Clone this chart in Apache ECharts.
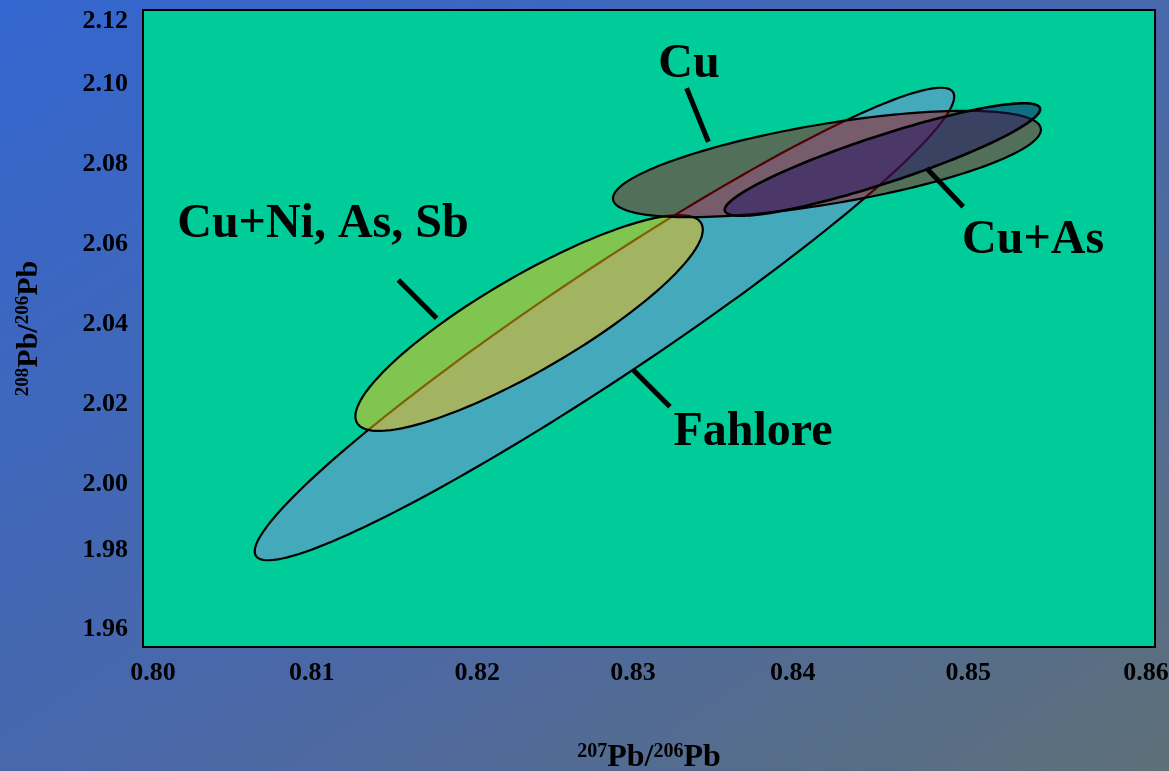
<!DOCTYPE html>
<html lang="en">
<head>
  <meta charset="UTF-8">
  <title>208Pb/206Pb vs 207Pb/206Pb</title>
  <style>
    html, body { margin: 0; padding: 0; }
    body { background: #3366cc; }
    #chart {
      width: 1169px;
      height: 771px;
      background: linear-gradient(to bottom right, #3366d0 0%, #4a68a8 55%, #5e7078 100%);
    }
  </style>
</head>
<body>
  <div id="chart"></div>

<script src="https://cdn.jsdelivr.net/npm/echarts@6/dist/echarts.min.js"></script>
<script>
  // ellipse fields: centre, end of major semi-axis, end of minor semi-axis (data units)
  var ellipseNames = ['Fahlore', 'Cu+Ni, As, Sb', 'Cu', 'Cu+As']
  var centerX = [0.82736, 0.82289, 0.84055, 0.84384]
  var centerY = [2.04113, 2.04138, 2.08132, 2.08245]
  var majorX = [0.84802, 0.83305, 0.85323, 0.85318]
  var majorY = [2.09940, 2.06672, 2.09026, 2.09538]
  var minorX = [0.82913, 0.82457, 0.84094, 0.84429]
  var minorY = [2.02985, 2.03176, 2.07139, 2.07678]

  // text labels and their leader lines
  var labelText = ['Cu', 'Cu+Ni, As, Sb', 'Cu+As', 'Fahlore']
  var labelX = [0.83237, 0.81067, 0.85277, 0.83617]
  var labelY = [2.10618, 2.06599, 2.06198, 2.01375]
  var leaderX1 = [0.83223, 0.81514, 0.84646, 0.82907]
  var leaderY1 = [2.10033, 2.05218, 2.08024, 2.02957]
  var leaderX2 = [0.83352, 0.81741, 0.84863, 0.83124]
  var leaderY2 = [2.08692, 2.04256, 2.07059, 2.02035]

  var xTicks = [0.80, 0.81, 0.82, 0.83, 0.84, 0.85, 0.86]
  var yTicks = [1.96, 1.98, 2.00, 2.02, 2.04, 2.06, 2.08, 2.10, 2.12]

  // the original tick labels sit a little off their ticks (px nudges)
  var xLabelNudge = [10, 0, -3, -16, -25, -18, -9]
  var yLabelNudge = [-18, -17, -3, -4, -4, -5, -5, -5, 11]

  var fills = [
    'rgb(68,170,187)',
    'rgba(255,190,8,0.5)',
    'rgba(182,0,10,0.45)',
    'rgba(32,20,104,0.5)'
  ]
  var font = '"Liberation Serif", "Times New Roman", serif'

  var ellipseData = []
  for (var i = 0; i < ellipseNames.length; i++) {
    ellipseData.push({
      name: ellipseNames[i],
      value: [centerX[i], centerY[i], majorX[i], majorY[i], minorX[i], minorY[i]]
    })
  }
  var labelData = []
  for (var j = 0; j < labelText.length; j++) {
    labelData.push({ name: labelText[j], value: [labelX[j], labelY[j]] })
  }
  var leaderData = []
  for (var k = 0; k < leaderX1.length; k++) {
    leaderData.push([leaderX1[k], leaderY1[k], leaderX2[k], leaderY2[k]])
  }

  var tickStyle = { fontSize: 26, fontWeight: 'bold', fontFamily: font, color: '#000' }
  var xRich = {}, yRich = {}
  xLabelNudge.forEach(function (d, n) {
    xRich['x' + n] = Object.assign({ padding: d > 0 ? [0, 0, 0, 2 * d] : [0, -2 * d, 0, 0] }, tickStyle)
  })
  yLabelNudge.forEach(function (d, n) {
    yRich['y' + n] = Object.assign({ padding: d > 0 ? [2 * d, 0, 0, 0] : [0, 0, -2 * d, 0] }, tickStyle)
  })

  var myChart = echarts.init(document.getElementById('chart'))

  var option = {
    backgroundColor: 'transparent',
    animation: false,
    grid: {
      left: 143, right: 14, top: 10, bottom: 124,
      outerBoundsMode: 'none',
      containLabel: false,
      show: true,
      backgroundColor: '#00cc99',
      borderColor: '#000',
      borderWidth: 2
    },
    xAxis: {
      type: 'value',
      min: xTicks[0],
      max: xTicks[xTicks.length - 1],
      interval: 0.01,
      axisLine: { show: false },
      axisTick: { show: false },
      splitLine: { show: false },
      axisLabel: Object.assign({
        margin: 13,
        rich: xRich,
        formatter: function (v) {
          var n = Math.round((v - xTicks[0]) / 0.01)
          return '{x' + n + '|' + v.toFixed(2) + '}'
        }
      }, tickStyle),
      name: '{sup|207}{main|Pb/}{sup|206}{main|Pb}',
      nameLocation: 'middle',
      nameGap: 95,
      nameTextStyle: {
        rich: {
          main: { fontSize: 32, fontWeight: 'bold', fontFamily: font, color: '#000' },
          sup: { fontSize: 20, fontWeight: 'bold', fontFamily: font, color: '#000', verticalAlign: 'top', padding: [0, 0, 12, 0] }
        }
      }
    },
    yAxis: {
      type: 'value',
      min: yTicks[0],
      max: yTicks[yTicks.length - 1],
      interval: 0.02,
      axisLine: { show: false },
      axisTick: { show: false },
      splitLine: { show: false },
      axisLabel: Object.assign({
        margin: 15,
        rich: yRich,
        formatter: function (v) {
          var n = Math.round((v - yTicks[0]) / 0.02)
          return '{y' + n + '|' + v.toFixed(2) + '}'
        }
      }, tickStyle),
      name: '{sup|208}{main|Pb/}{sup|206}{main|Pb}',
      nameLocation: 'middle',
      nameRotate: 90,
      nameGap: 99,
      nameTextStyle: {
        rich: {
          main: { fontSize: 30, fontWeight: 'bold', fontFamily: font, color: '#000' },
          sup: { fontSize: 19, fontWeight: 'bold', fontFamily: font, color: '#000', verticalAlign: 'top', padding: [0, 0, 11, 0] }
        }
      }
    },
    series: [
      // ellipses
      {
        type: 'custom',
        coordinateSystem: 'cartesian2d',
        data: ellipseData,
        renderItem: function (params, api) {
          var cx = api.value(0), cy = api.value(1)
          var ax = api.value(2) - cx, ay = api.value(3) - cy
          var bx = api.value(4) - cx, by = api.value(5) - cy
          var pts = []
          for (var s = 0; s < 180; s++) {
            var t = s / 180 * Math.PI * 2
            pts.push(api.coord([cx + ax * Math.cos(t) + bx * Math.sin(t),
                                cy + ay * Math.cos(t) + by * Math.sin(t)]))
          }
          return {
            type: 'polygon',
            shape: { points: pts },
            style: {
              fill: fills[params.dataIndex],
              stroke: '#000',
              lineWidth: params.dataIndex === 3 ? 2.6 : 2.2
            }
          }
        }
      },
      // leader lines
      {
        type: 'custom',
        coordinateSystem: 'cartesian2d',
        data: leaderData,
        renderItem: function (params, api) {
          var p1 = api.coord([api.value(0), api.value(1)])
          var p2 = api.coord([api.value(2), api.value(3)])
          return {
            type: 'line',
            shape: { x1: p1[0], y1: p1[1], x2: p2[0], y2: p2[1] },
            style: { stroke: '#000', lineWidth: 5 }
          }
        }
      },
      // labels
      {
        type: 'custom',
        coordinateSystem: 'cartesian2d',
        data: labelData,
        renderItem: function (params, api) {
          var p = api.coord([api.value(0), api.value(1)])
          return {
            type: 'text',
            x: p[0],
            y: p[1],
            style: {
              text: labelText[params.dataIndex],
              fontSize: 48,
              fontWeight: 'bold',
              fontFamily: font,
              fill: '#000',
              align: 'center',
              verticalAlign: 'middle'
            }
          }
        }
      }
    ]
  }
  myChart.setOption(option)
</script>
</body>
</html>
